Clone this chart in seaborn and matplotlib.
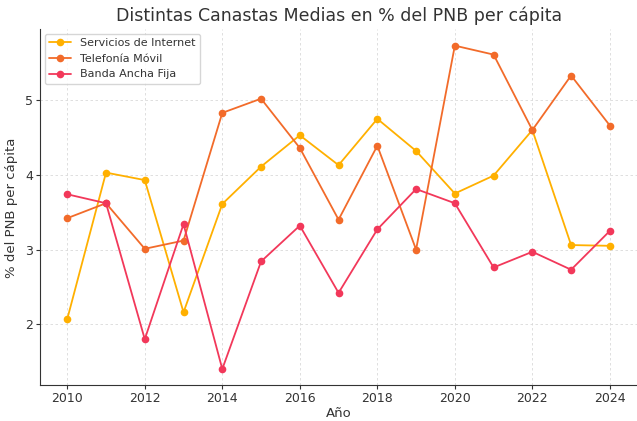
import matplotlib
matplotlib.use("Agg")
import matplotlib.pyplot as plt
import seaborn as sns
import pandas as pd

years = list(range(2010, 2025))
internet = [2.07, 4.03, 3.93, 2.16, 3.61, 4.11, 4.53, 4.13, 4.75, 4.32, 3.75, 3.99, 4.60, 3.06, 3.05]
movil = [3.42, 3.62, 3.01, 3.12, 4.83, 5.02, 4.36, 3.40, 4.39, 3.00, 5.73, 5.61, 4.60, 5.33, 4.66]
banda = [3.74, 3.62, 1.80, 3.34, 1.40, 2.84, 3.32, 2.42, 3.27, 3.81, 3.62, 2.76, 2.97, 2.73, 3.25]
series_names = ["Servicios de Internet", "Telefonía Móvil", "Banda Ancha Fija"]
colors = ["#FFB000", "#F26B2A", "#F2385A"]

df = pd.DataFrame({"Año": years * 3,
                   "valor": internet + movil + banda,
                   "serie": [s for s in series_names for _ in years]})

sns.set_style("ticks")
plt.rcParams['font.family'] = ['DejaVu Sans']
fig, ax = plt.subplots(figsize=(6.37, 4.21), dpi=100)
sns.lineplot(data=df, x="Año", y="valor", hue="serie", palette=colors,
             marker="o", markersize=5.5, markeredgewidth=0, linewidth=1.3, ax=ax)

ax.set_title("Distintas Canastas Medias en % del PNB per cápita", fontsize=12.5, color="#333333", pad=6)
ax.set_xlabel("Año", fontsize=9.5, color="#333333", labelpad=1)
ax.set_ylabel("% del PNB per cápita", fontsize=9.5, color="#333333", labelpad=5)
ax.set_xticks(range(2010, 2025, 2))
ax.set_yticks([2, 3, 4, 5])
ax.tick_params(colors="#333333", labelsize=9, length=3, pad=2)
ax.grid(True, linestyle=(0, (3, 3)), color="#d9d9d9", linewidth=0.6)
sns.despine(ax=ax)
for s in ["left", "bottom"]:
    ax.spines[s].set_color("#333333")
leg = ax.legend(loc="upper left", fontsize=8, frameon=True, borderaxespad=0.4)
leg.get_frame().set_edgecolor("#cccccc")
for t in leg.get_texts():
    t.set_color("#333333")

fig.subplots_adjust(left=0.063, right=1.0, top=0.93, bottom=0.085)
fig.savefig("out.png", dpi=100)
